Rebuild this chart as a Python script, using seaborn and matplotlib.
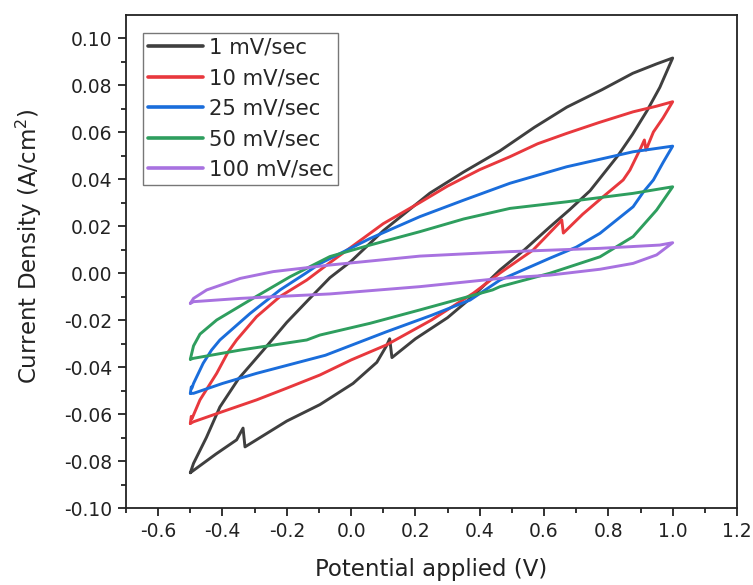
import numpy as np
import pandas as pd
import matplotlib
matplotlib.use("Agg")
import matplotlib.pyplot as plt
from matplotlib.ticker import MultipleLocator, FormatStrFormatter
import seaborn as sns

# ---- data ----
labels = ["1 mV/sec", "10 mV/sec", "25 mV/sec", "50 mV/sec", "100 mV/sec"]
colors = ["#3f3f3f", "#e8383d", "#1a6ddb", "#2e9e5e", "#a872e0"]

# 1 mV/sec : forward (upper) branch then reverse (lower) branch
x1_fwd = [-0.5, -0.49, -0.45, -0.408, -0.35, -0.274, -0.2, -0.13, -0.066, 0.0, 0.1, 0.245, 0.35, 0.463, 0.57, 0.671, 0.78, 0.876, 0.95, 1.0]
y1_fwd = [-0.085, -0.081, -0.070, -0.057, -0.045, -0.033, -0.021, -0.011, -0.002, 0.005, 0.018, 0.034, 0.043, 0.052, 0.062, 0.0706, 0.078, 0.085, 0.089, 0.0915]
x1_rev = [1.0, 0.96, 0.92, 0.875, 0.83, 0.743, 0.68, 0.618, 0.54, 0.463, 0.376, 0.3, 0.2, 0.127, 0.12, 0.11, 0.08, 0.006, -0.097, -0.2, -0.33, -0.336, -0.356, -0.42, -0.48, -0.5]
y1_rev = [0.0915, 0.079, 0.069, 0.059, 0.050, 0.035, 0.027, 0.0196, 0.010, 0.0013, -0.0102, -0.019, -0.028, -0.036, -0.028, -0.031, -0.038, -0.047, -0.056, -0.063, -0.074, -0.066, -0.071, -0.077, -0.083, -0.085]

# 10 mV/sec
x2_fwd = [-0.5, -0.497, -0.495, -0.47, -0.418, -0.382, -0.356, -0.294, -0.221, -0.138, -0.07, 0.0, 0.1, 0.214, 0.3, 0.4, 0.494, 0.58, 0.67, 0.77, 0.877, 0.95, 1.0]
y2_fwd = [-0.064, -0.061, -0.062, -0.054, -0.0427, -0.0335, -0.0285, -0.0186, -0.010, -0.003, 0.004, 0.011, 0.021, 0.030, 0.037, 0.044, 0.0495, 0.055, 0.0594, 0.064, 0.0686, 0.071, 0.0729]
x2_rev = [1.0, 0.97, 0.94, 0.917, 0.912, 0.9, 0.867, 0.846, 0.784, 0.72, 0.66, 0.655, 0.645, 0.566, 0.463, 0.38, 0.25, 0.11, 0.0, -0.097, -0.2, -0.294, -0.4, -0.49, -0.5]
y2_rev = [0.0729, 0.066, 0.060, 0.0523, 0.0566, 0.053, 0.0438, 0.0396, 0.0325, 0.025, 0.017, 0.0226, 0.021, 0.0098, 0.0, -0.0086, -0.020, -0.0306, -0.037, -0.0434, -0.049, -0.054, -0.059, -0.0633, -0.064]

# 25 mV/sec
x3_fwd = [-0.5, -0.497, -0.495, -0.49, -0.46, -0.434, -0.408, -0.314, -0.221, -0.14, -0.097, 0.059, 0.214, 0.35, 0.494, 0.67, 0.877, 1.0]
y3_fwd = [-0.0512, -0.0485, -0.049, -0.047, -0.0384, -0.0328, -0.0285, -0.0172, -0.0072, 0.000, 0.004, 0.0147, 0.024, 0.031, 0.0382, 0.0452, 0.0516, 0.054]
x3_rev = [1.0, 0.97, 0.94, 0.909, 0.877, 0.774, 0.7, 0.618, 0.463, 0.37, 0.25, 0.11, -0.08, -0.294, -0.4, -0.49, -0.5]
y3_rev = [0.054, 0.047, 0.0396, 0.0345, 0.0282, 0.0169, 0.011, 0.0063, -0.003, -0.0115, -0.018, -0.025, -0.035, -0.0427, -0.047, -0.0512, -0.0512]

# 50 mV/sec
x4_fwd = [-0.5, -0.49, -0.47, -0.418, -0.314, -0.19, -0.066, 0.059, 0.214, 0.35, 0.494, 0.67, 0.877, 1.0]
y4_fwd = [-0.0367, -0.031, -0.026, -0.020, -0.0115, -0.0016, 0.007, 0.0119, 0.0176, 0.023, 0.0275, 0.0303, 0.0339, 0.0367]
x4_rev = [1.0, 0.95, 0.877, 0.774, 0.618, 0.463, 0.44, 0.214, 0.059, -0.097, -0.138, -0.345, -0.49, -0.5]
y4_rev = [0.0367, 0.0268, 0.0155, 0.0069, -0.0001, -0.0058, -0.0072, -0.0157, -0.0214, -0.0264, -0.0285, -0.0328, -0.0363, -0.0367]

# 100 mV/sec
x5_fwd = [-0.5, -0.49, -0.449, -0.345, -0.242, -0.066, 0.214, 0.494, 0.774, 0.96, 1.0]
y5_fwd = [-0.0129, -0.0108, -0.0072, -0.0023, 0.0006, 0.0034, 0.0072, 0.0091, 0.0105, 0.0119, 0.0129]
x5_rev = [1.0, 0.95, 0.877, 0.774, 0.618, 0.463, 0.214, -0.066, -0.345, -0.49, -0.5]
y5_rev = [0.0129, 0.0077, 0.0041, 0.0016, -0.0009, -0.0023, -0.0058, -0.0089, -0.0108, -0.0122, -0.0129]

xticks = [-0.6, -0.4, -0.2, 0.0, 0.2, 0.4, 0.6, 0.8, 1.0, 1.2]
yticks = [-0.10, -0.08, -0.06, -0.04, -0.02, 0.00, 0.02, 0.04, 0.06, 0.08, 0.10]

series = [
    (x1_fwd + x1_rev, y1_fwd + y1_rev),
    (x2_fwd + x2_rev, y2_fwd + y2_rev),
    (x3_fwd + x3_rev, y3_fwd + y3_rev),
    (x4_fwd + x4_rev, y4_fwd + y4_rev),
    (x5_fwd + x5_rev, y5_fwd + y5_rev),
]
frames = []
for lab, (xs, ys) in zip(labels, series):
    frames.append(pd.DataFrame({"Potential": xs, "Current": ys, "Scan rate": lab}))
df = pd.concat(frames, ignore_index=True)

# ---- style ----
sns.set_style("ticks")
plt.rcParams["font.family"] = ["DejaVu Sans"]
plt.rcParams["axes.linewidth"] = 1.3

fig = plt.figure(figsize=(7.53, 5.85), dpi=100)
ax = fig.add_axes([126 / 753, 1 - 508 / 585, (737 - 126) / 753, (508 - 15) / 585])

sns.lineplot(data=df, x="Potential", y="Current", hue="Scan rate",
             palette=dict(zip(labels, colors)), hue_order=labels,
             sort=False, estimator=None, linewidth=2.1, ax=ax)

ax.set_xlim(-0.7, 1.2)
ax.set_ylim(-0.10, 0.1098)
ax.set_xticks(xticks)
ax.set_yticks(yticks)
ax.xaxis.set_major_formatter(FormatStrFormatter("%.1f"))
ax.yaxis.set_major_formatter(FormatStrFormatter("%.2f"))
ax.xaxis.set_minor_locator(MultipleLocator(0.1))
ax.yaxis.set_minor_locator(MultipleLocator(0.01))
ax.tick_params(axis="both", which="major", direction="out", length=6, width=1.3,
               labelsize=13.5, color="#222222", labelcolor="#222222", pad=4)
ax.tick_params(axis="both", which="minor", direction="out", length=3.5, width=1.3,
               color="#222222")
ax.tick_params(top=False, right=False, which="both")
for s in ax.spines.values():
    s.set_visible(True)
    s.set_color("#222222")

ax.set_xlabel("Potential applied (V)", fontsize=16.5, color="#222222", labelpad=12)
ax.set_ylabel("Current Density (A/cm$^{2}$)", fontsize=16.5, color="#222222")
ax.yaxis.set_label_coords(-0.135, 0.53)

handles, labs = ax.get_legend_handles_labels()
leg = ax.legend(handles, labs, loc="upper left", bbox_to_anchor=(0.028, 0.9635),
                borderaxespad=0, fontsize=15.2, frameon=True, fancybox=False,
                handlelength=2.6, handletextpad=0.28, labelspacing=0.5,
                borderpad=0.22)
leg.get_frame().set_edgecolor("#555555")
leg.get_frame().set_linewidth(1.0)
for line in leg.get_lines():
    line.set_linewidth(2.6)

fig.savefig("out.png", dpi=100)
